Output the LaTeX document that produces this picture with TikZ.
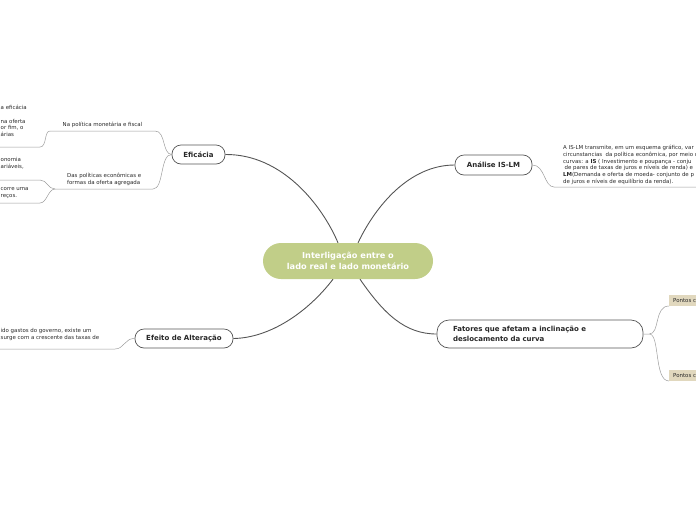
\documentclass[tikz,border=0pt]{standalone}
\usepackage{fontspec}
\setmainfont{DejaVu Sans}
\usetikzlibrary{positioning}
\definecolor{rootgreen}{RGB}{193,206,136}
\definecolor{darkline}{RGB}{85,85,85}
\definecolor{lightline}{RGB}{155,155,155}
\definecolor{sandbeige}{RGB}{225,216,190}
\definecolor{textgray}{RGB}{40,40,40}

\begin{document}
\begin{tikzpicture}[x=1pt, y=-1pt,
  root/.style={fill=rootgreen, rounded corners=18pt, minimum width=170pt,
    minimum height=36pt, text=white, align=center,
    font=\fontsize{8.2}{10.8}\selectfont\bfseries},
  topic/.style={draw=darkline, line width=0.7pt, rounded corners=9pt, fill=white,
    text=textgray, font=\fontsize{7}{9.8}\selectfont\bfseries},
  small/.style={inner sep=0pt, align=left, text=textgray,
    font=\fontsize{5.45}{6.7}\selectfont},
  pontos/.style={fill=sandbeige, minimum height=11pt, text width=40pt, inner xsep=4pt,
    align=left, text=textgray, font=\fontsize{5.45}{6.7}\selectfont},
  mainlink/.style={draw=darkline, line width=0.9pt},
  sublink/.style={draw=lightline, line width=0.5pt},
]
\useasboundingbox (0,0) rectangle (696,520);

% central idea
\node[root] (root) at (348,261) {Interligação entre o\\lado real e lado monetário};

% main topics
\node[topic, minimum width=53pt, minimum height=19pt] (efic) at (198.5,154.5) {Eficácia};
\node[topic, minimum width=77pt, minimum height=20pt] (analise) at (493.5,165) {Análise IS-LM};
\node[topic, minimum width=98pt, minimum height=19pt] (efeito) at (184,338.5) {Efeito de Alteração};
\node[topic, text width=174pt, inner xsep=16pt, minimum height=28pt, align=left,
  rounded corners=12pt] (fatores) at (540,334)
  {Fatores que afetam a inclinação e\\deslocamento da curva};

\draw[mainlink] ([xshift=-10pt]root.north) .. controls (322,205) and (282,154) .. (efic.east);
\draw[mainlink] ([xshift=10pt]root.north) .. controls (376,205) and (410,165) .. (analise.west);
\draw[mainlink] ([xshift=-15pt]root.south) .. controls (308,312) and (270,338) .. (efeito.east);
\draw[mainlink] ([xshift=12pt]root.south) .. controls (384,314) and (405,334) .. (fatores.west);

% Eficacia -- first subtopic
\node[small, align=center] (napol) at (102.5,125) {Na política monetária e fiscal};
\coordinate (napolR) at (155,131);
\coordinate (napolL) at (50,131);
\draw[sublink] (efic.west) .. controls (162,154) and (166,131) .. (napolR) -- (napolL);
\node[small, anchor=north west] (leafa) at (0.5,105.3)
  {a eficácia\\[6.7pt]na oferta\\or fim, o\\árias};
\coordinate (leafaR) at (40,147);
\coordinate (leafaL) at (-5,147);
\draw[sublink] (napolL) .. controls (44,131) and (47,147) .. (leafaR) -- (leafaL);

% Eficacia -- second subtopic
\node[small, anchor=north west] (daspol) at (67,173.3)
  {Das políticas econômicas e\\formas da oferta agregada};
\coordinate (daspolR) at (153,189);
\coordinate (daspolL) at (55,189);
\draw[sublink] (efic.west) .. controls (160,154) and (164,189) .. (daspolR) -- (daspolL);
\node[small, anchor=north west] (leafb) at (0.5,157.3) {onomia\\ariáveis,};
\coordinate (leafbR) at (40,180);
\coordinate (leafbL) at (-5,180);
\draw[sublink] (daspolL) .. controls (48,189) and (47,180) .. (leafbR) -- (leafbL);
\node[small, anchor=north west] (leafc) at (0.5,187.3) {corre uma\\reços.};
\coordinate (leafcR) at (40,203);
\coordinate (leafcL) at (-5,203);
\draw[sublink] (daspolL) .. controls (48,189) and (47,203) .. (leafcR) -- (leafcL);

% Analise IS-LM
\node[small, anchor=north west] (islm) at (563,145.3)
  {A IS-LM transmite, em um esquema gráfico, var\\
   circunstancias\ \ da política econômica, por meio d\\
   curvas: a \textbf{IS} ( Investimento e poupança - conju\\
   \hspace{1.5pt}de pares de taxas de juros e níveis de renda) e\\
   \textbf{LM}(Demanda e oferta de moeda- conjunto de p\\
   de juros e níveis de equilíbrio da renda).};
\coordinate (islmL) at (554,187);
\coordinate (islmR) at (700,187);
\draw[sublink] (analise.east) .. controls (545,165) and (544,187) .. (islmL) -- (islmR);

% Efeito de Alteracao
\node[small, anchor=north west] (gastos) at (0.5,328.3)
  {ido gastos do governo, existe um\\surge com a crescente das taxas de};
\coordinate (gastosR) at (115,349);
\coordinate (gastosL) at (-5,349);
\draw[sublink] (efeito.west) .. controls (125,338) and (124,349) .. (gastosR) -- (gastosL);

% Fatores
\node[pontos, anchor=south west] (pontosa) at (669,306) {Pontos c};
\node[pontos, anchor=south west] (pontosb) at (669,381) {Pontos c};
\draw[sublink] (fatores.east) -- ++(6,0) coordinate (fork)
  .. controls (660,334) and (654,306) .. (pontosa.south west);
\draw[sublink] (fork) .. controls (660,334) and (654,381) .. (pontosb.south west);
\end{tikzpicture}
\end{document}
